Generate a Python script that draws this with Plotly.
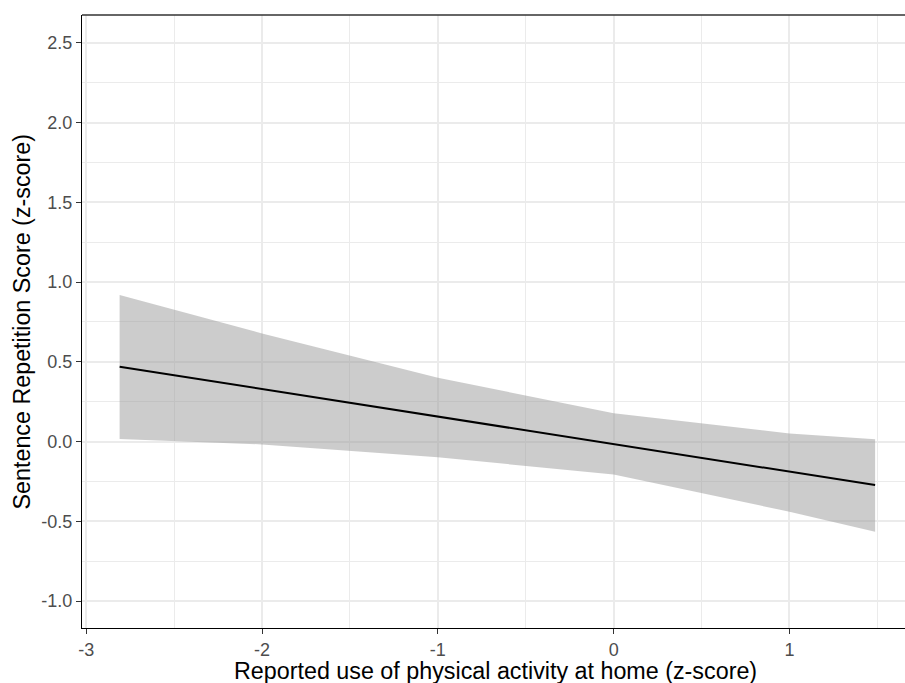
import plotly.graph_objects as go

# Data
fit_x = [-2.81, 1.487]
fit_y = [0.469, -0.273]

band_x = [-2.81, -2.0, -1.0, 0.0, 1.0, 1.487]
band_upper = [0.918, 0.678, 0.400, 0.177, 0.051, 0.014]
band_lower = [0.016, -0.018, -0.099, -0.206, -0.440, -0.566]

x_ticks = [-3, -2, -1, 0, 1]
x_tick_labels = ["-3", "-2", "-1", "0", "1"]
y_ticks = [-1.0, -0.5, 0.0, 0.5, 1.0, 1.5, 2.0, 2.5]
y_tick_labels = ["-1.0", "-0.5", "0.0", "0.5", "1.0", "1.5", "2.0", "2.5"]

x_title = "Reported use of physical activity at home (z-score)"
y_title = "Sentence Repetition Score (z-score)"

FONT = "Liberation Sans, Arial, Helvetica, sans-serif"

W, H = 905, 683
L, R, T, B = 82, 0, 15, 683 - 628
pw, ph = W - L - R, H - T - B

fig = go.Figure()
fig.add_trace(go.Scatter(
    x=band_x + band_x[::-1],
    y=band_upper + band_lower[::-1],
    fill="toself",
    fillcolor="rgba(153,153,153,0.5)",
    line=dict(width=0),
    mode="lines",
    hoverinfo="skip",
    showlegend=False,
))
fig.add_trace(go.Scatter(
    x=fit_x, y=fit_y, mode="lines",
    line=dict(color="black", width=2),
    showlegend=False,
))

fig.update_layout(
    width=W, height=H,
    margin=dict(l=L, r=R, t=T, b=B),
    paper_bgcolor="white",
    plot_bgcolor="white",
    font=dict(family=FONT),
    showlegend=False,
)

fig.update_xaxes(
    automargin=False,
    range=[-3.024, 1.657],
    tickmode="array", tickvals=x_ticks, ticktext=x_tick_labels,
    tickfont=dict(size=18, color="#4D4D4D", family=FONT),
    ticks="outside", ticklen=5, tickwidth=1.1, tickcolor="#333333",
    showline=True, linecolor="black", linewidth=1.3,
    showgrid=True, gridcolor="#EBEBEB", gridwidth=2,
    minor=dict(dtick=0.5, tick0=-3, showgrid=True, gridcolor="#EBEBEB", gridwidth=1),
    zeroline=False,
)
fig.update_yaxes(
    automargin=False,
    range=[-1.169, 2.674],
    tickmode="array", tickvals=y_ticks, ticktext=y_tick_labels,
    tickfont=dict(size=18, color="#4D4D4D", family=FONT),
    ticks="outside", ticklen=5, tickwidth=1.1, tickcolor="#333333",
    showline=True, linecolor="black", linewidth=1.3,
    showgrid=True, gridcolor="#EBEBEB", gridwidth=2,
    minor=dict(dtick=0.25, tick0=0, showgrid=True, gridcolor="#EBEBEB", gridwidth=1),
    zeroline=False,
)

# axis titles (positions in screen pixels, converted to paper coordinates)
xt_cx, xt_cy = 495, 671
yt_cx, yt_cy = 21, 321.5
fig.add_annotation(text=x_title, xref="paper", yref="paper",
                   x=(xt_cx - L) / pw, y=-(xt_cy - (T + ph)) / ph,
                   xanchor="center", yanchor="middle", showarrow=False,
                   font=dict(size=23.3, color="black", family=FONT))
fig.add_annotation(text=y_title, xref="paper", yref="paper",
                   x=(yt_cx - L) / pw, y=1 - (yt_cy - T) / ph, textangle=-90,
                   xanchor="center", yanchor="middle", showarrow=False,
                   font=dict(size=23.3, color="black", family=FONT))

# top border of the panel
fig.add_shape(type="line", xref="paper", yref="paper", x0=0, x1=1, y0=1, y1=1,
              line=dict(color="#333333", width=1.3))

fig.write_html("out.html",
               config={"displayModeBar": False},
               post_script="document.body.style.margin='0';document.body.style.overflow='hidden';")
